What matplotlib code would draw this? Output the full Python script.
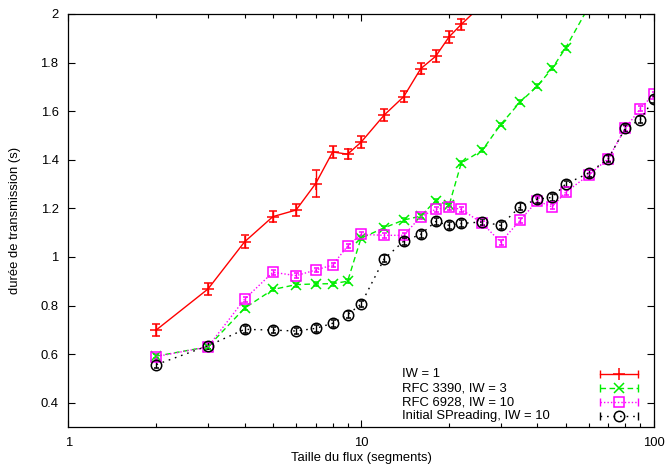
import numpy as np
import matplotlib
matplotlib.use("Agg")
import matplotlib.pyplot as plt
from matplotlib.ticker import FixedLocator, FuncFormatter, NullFormatter, LogLocator

plt.rcParams.update(
    {
        "font.family": ["Liberation Sans", "DejaVu Sans"],
        "font.size": 9.4,
        "xtick.direction": "in",
        "ytick.direction": "in",
        "xtick.top": True,
        "ytick.right": True,
        "axes.linewidth": 0.9,
    }
)

# ── données ──
x_iw1 = [2, 3, 4, 5, 6, 7, 8, 9, 10, 12, 14, 16, 18, 20, 22, 26]
y_iw1 = [0.70, 0.868, 1.062, 1.166, 1.193, 1.302, 1.432, 1.423, 1.472, 1.584,
         1.660, 1.775, 1.826, 1.906, 1.957, 2.04]
e_iw1 = [0.024, 0.026, 0.027, 0.024, 0.023, 0.056, 0.025, 0.021, 0.024, 0.024,
         0.024, 0.024, 0.024, 0.026, 0.022, 0.02]

x_common = [2, 3, 4, 5, 6, 7, 8, 9, 10, 12, 14, 16, 18, 20, 22, 26, 30, 35, 40,
            45, 50, 60, 70, 80, 90, 100]

x_rfc3390 = [2, 3, 4, 5, 6, 7, 8, 9, 10, 12, 14, 16, 18, 20, 22, 26, 30, 35, 40,
             45, 50, 60]
y_rfc3390 = [0.592, 0.630, 0.789, 0.866, 0.886, 0.889, 0.890, 0.900, 1.077, 1.120,
             1.152, 1.168, 1.232, 1.213, 1.386, 1.440, 1.545, 1.638, 1.703,
             1.776, 1.860, 2.03]
e_rfc3390 = [0.008] * len(x_rfc3390)

y_rfc6928 = [0.590, 0.630, 0.826, 0.937, 0.923, 0.946, 0.967, 1.045, 1.093, 1.089,
             1.089, 1.166, 1.196, 1.205, 1.196, 1.138, 1.061, 1.151, 1.231,
             1.206, 1.266, 1.337, 1.405, 1.530, 1.610, 1.670]
e_rfc6928 = [0.010] * len(x_common)

y_spreading = [0.557, 0.634, 0.702, 0.699, 0.695, 0.706, 0.727, 0.762, 0.806, 0.992,
               1.065, 1.093, 1.146, 1.130, 1.138, 1.144, 1.130, 1.207, 1.238,
               1.245, 1.300, 1.345, 1.405, 1.530, 1.565, 1.649]
e_spreading = [0.014] * len(x_common)

labels = ["IW = 1", "RFC 3390, IW = 3", "RFC 6928, IW = 10",
          "Initial SPreading, IW = 10"]

# ── styles ──
styles = [
    dict(color="#ff0000", ls="-", marker="+", ms=8, dashes=None, cap=2.8),
    dict(color="#00ee00", ls="--", marker="x", ms=7, dashes=(4, 2.5), cap=2.0),
    dict(color="#ff00ff", ls=":", marker="s", ms=7, dashes=(1, 1.5), cap=1.8),
    dict(color="#000000", ls=":", marker="o", ms=7.5, dashes=(1.2, 3.5), cap=1.8),
]

fig = plt.figure(figsize=(6.66, 4.68), dpi=100)
ax = fig.add_axes([0.1026, 0.0876, 0.8789, 0.8825])

series = [
    (x_iw1, y_iw1, e_iw1),
    (x_rfc3390, y_rfc3390, e_rfc3390),
    (x_common, y_rfc6928, e_rfc6928),
    (x_common, y_spreading, e_spreading),
]

for (xs, ys, es), st in zip(series, styles):
    cont = ax.errorbar(xs, ys, yerr=es, color=st["color"], ls=st["ls"], lw=1.0,
                       marker=st["marker"], ms=st["ms"], mfc="none",
                       mec=st["color"], mew=1.1, capsize=st["cap"],
                       elinewidth=1.0, capthick=1.0)
    if st["dashes"] is not None:
        cont.lines[0].set_dashes(st["dashes"])

ax.set_xscale("log")
ax.set_xlim(1, 100)
ax.set_ylim(0.3, 2.0)
ax.xaxis.set_major_locator(FixedLocator([1, 10, 100]))
ax.xaxis.set_minor_locator(LogLocator(base=10, subs=np.arange(2, 10)))
ax.xaxis.set_minor_formatter(NullFormatter())
ax.xaxis.set_major_formatter(FuncFormatter(lambda v, p: f"{v:g}"))
ax.yaxis.set_major_locator(FixedLocator(np.round(np.arange(0.4, 2.01, 0.2), 1)))
ax.yaxis.set_major_formatter(FuncFormatter(lambda v, p: f"{v:g}"))
ax.tick_params(which="major", length=5, width=0.8, pad=7)
ax.tick_params(which="minor", length=3, width=0.8)

ax.set_xlabel("Taille du flux (segments)", labelpad=2)
ax.set_ylabel("durée de transmission (s)", labelpad=14)

# ── légende façon gnuplot ──
rows_y = [0.1276, 0.0937, 0.0605, 0.0274]
for lab, st, yr in zip(labels, styles, rows_y):
    ax.text(0.5695, yr, lab, transform=ax.transAxes, ha="left", va="center")
    ln, = ax.plot([0.908, 0.973], [yr, yr], transform=ax.transAxes,
                  color=st["color"], ls=st["ls"], lw=1.0, clip_on=False)
    if st["dashes"] is not None:
        ln.set_dashes(st["dashes"])
    ax.plot([0.908, 0.973], [yr, yr], transform=ax.transAxes, ls="none",
            marker="|", ms=6, mew=1.0, color=st["color"])
    ax.plot([0.9405], [yr], transform=ax.transAxes, ls="none",
            marker=st["marker"], ms=st["ms"], mfc="none", mec=st["color"],
            mew=1.1)

fig.savefig("out.png", dpi=100)
